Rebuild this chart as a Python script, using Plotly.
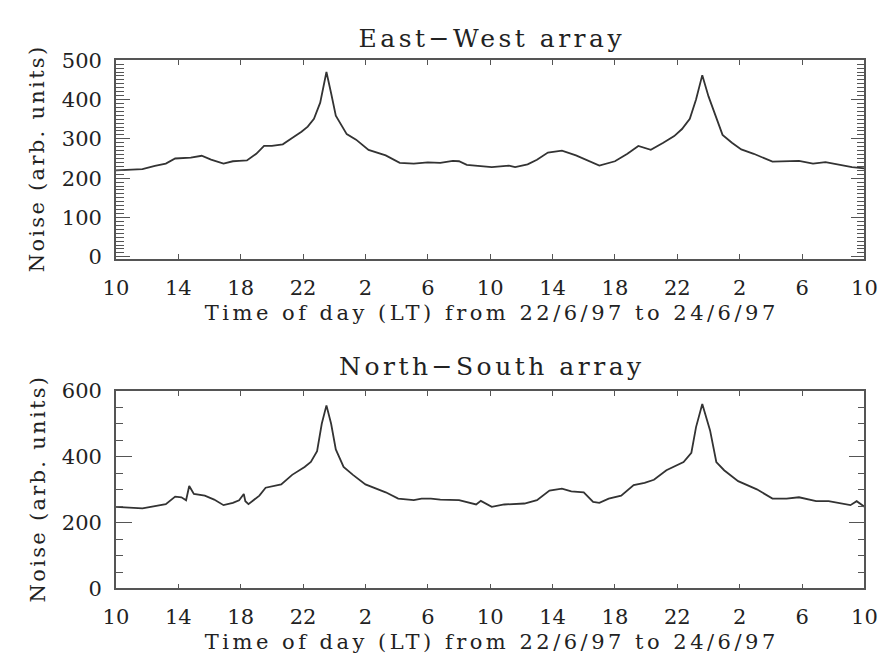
import plotly.graph_objects as go

# Hours since 10 LT on 22/6/97
ew_hours = [0, 1.7, 2.5, 3.2, 3.8, 4.8, 5.5, 6.1, 6.9, 7.5, 7.9, 8.4, 9.0, 9.5, 10.0,
            10.7, 11.3, 11.9, 12.3, 12.7, 13.1, 13.5, 13.8, 14.1, 14.8, 15.4, 16.2, 17.3,
            18.2, 19.1, 20.0, 20.8, 21.6, 22.0, 22.5, 24.1, 25.2, 25.6, 26.4, 27.0, 27.7,
            28.6, 29.5, 30.2, 31.0, 32.0, 32.8, 33.5, 34.3, 35.1, 35.8, 36.3, 36.8, 37.2,
            37.6, 38.0, 38.5, 38.9, 39.5, 40.1, 40.9, 42.1, 43.8, 44.7, 45.5, 46.0, 47.2, 48]
ew_noise = [220, 223, 231, 237, 250, 252, 257, 247, 237, 243, 244, 245, 262, 282, 282,
            286, 302, 318, 331, 351, 392, 470, 416, 359, 312, 298, 272, 258,
            239, 237, 240, 239, 244, 243, 234, 228, 232, 228, 235, 247, 265,
            270, 258, 245, 232, 243, 262, 282, 272, 290, 307, 325, 351, 400,
            462, 408, 351, 310, 290, 273, 262, 242, 244, 237, 241, 237, 228, 225]

ns_hours = [0, 1.7, 2.5, 3.2, 3.8, 4.2, 4.5, 4.7, 5.0, 5.7, 6.3, 6.9, 7.5, 7.9, 8.2,
            8.3, 8.5, 9.2, 9.6, 10.2, 10.6, 11.3, 12.1, 12.5, 12.9, 13.2, 13.5, 13.8,
            14.1, 14.6, 15.2, 16.0, 17.3, 18.1, 19.1, 19.6, 20.2, 20.8, 21.4, 22.0,
            23.1, 23.4, 24.1, 24.9, 26.2, 27.0, 27.8, 28.6, 29.2, 30.0, 30.6, 31.0,
            31.6, 32.4, 33.2, 33.9, 34.5, 35.3, 36.4, 36.9, 37.2, 37.6, 38.1, 38.5,
            39.0, 39.9, 41.1, 42.1, 43.0, 43.8, 44.9, 45.7, 47.1, 47.5, 48]
ns_noise = [248, 243, 250, 256, 279, 277, 268, 311, 287, 282, 270, 253, 260, 268, 287,
            265, 256, 282, 306, 311, 316, 345, 369, 384, 417, 500, 556, 500,
            422, 369, 345, 316, 292, 273, 268, 273, 273, 270, 268, 268,
            255, 266, 248, 255, 258, 268, 297, 303, 295, 292, 263, 260,
            273, 282, 314, 321, 330, 359, 384, 412, 490, 560, 480, 384,
            359, 326, 301, 273, 273, 277, 265, 265, 253, 265, 248]

x_tickvals = [0, 4, 8, 12, 16, 20, 24, 28, 32, 36, 40, 44, 48]
x_ticktext = ["10", "14", "18", "22", "2", "6", "10", "14", "18", "22", "2", "6", "10"]

titles = ["East\u2212West array", "North\u2212South array"]
xlabel = "Time of day (LT) from 22/6/97 to 24/6/97"
ylabel = "Noise (arb. units)"

FONT = "DejaVu Serif"
INK = "#333333"
AX = "#555555"

fig = go.Figure()
fig.add_trace(go.Scatter(x=ew_hours, y=ew_noise, mode="lines",
                         line=dict(color=INK, width=1.8), xaxis="x", yaxis="y",
                         showlegend=False))
fig.add_trace(go.Scatter(x=ns_hours, y=ns_noise, mode="lines",
                         line=dict(color=INK, width=1.8), xaxis="x2", yaxis="y2",
                         showlegend=False))

xdom = [106 / 893, 877 / 893]
ydom1 = [1 - 256 / 667, 1 - 50 / 667]
ydom2 = [1 - 598 / 667, 1 - 393 / 667]

common_x = dict(range=[0, 48], tickvals=x_tickvals, ticktext=x_ticktext,
                ticks="inside", ticklen=5, tickwidth=1.2, tickcolor=AX,
                showline=True, linecolor=AX, linewidth=1.5, mirror="ticks",
                showgrid=False, zeroline=False, domain=xdom,
                tickfont=dict(family=FONT, size=21, color="#222"),
                ticklabelstandoff=9)
common_y = dict(ticks="inside", tickwidth=1.2, tickcolor=AX,
                showline=True, linecolor=AX, linewidth=1.5, mirror="ticks",
                showgrid=False, zeroline=False, ticklabelstandoff=8,
                tickfont=dict(family=FONT, size=21, color="#222"))

fig.update_layout(
    width=893, height=667,
    margin=dict(l=0, r=0, t=0, b=0),
    paper_bgcolor="white", plot_bgcolor="white",
    xaxis=dict(**common_x, anchor="y"),
    yaxis=dict(**common_y, domain=ydom1, range=[-5, 500], anchor="x",
               tickvals=[0, 100, 200, 300, 400, 500], ticklen=14,
               minor=dict(dtick=10, tick0=0, ticks="inside", ticklen=8,
                          tickcolor=AX, tickwidth=1)),
    xaxis2=dict(**common_x, anchor="y2"),
    yaxis2=dict(**common_y, domain=ydom2, range=[0, 600], anchor="x2",
                tickvals=[0, 200, 400, 600], ticklen=16,
                minor=dict(dtick=50, tick0=0, ticks="inside", ticklen=7,
                           tickcolor=AX, tickwidth=1)),
)

ann = []
xc = (xdom[0] + xdom[1]) / 2
for title, ty, xy, ymid in [
    (titles[0], 1 - 27 / 667, 1 - 312 / 667, (ydom1[0] + ydom1[1]) / 2),
    (titles[1], 1 - 368 / 667, 1 - 653 / 667, (ydom2[0] + ydom2[1]) / 2),
]:
    ann.append(dict(text=title, x=xc, y=ty, xref="paper", yref="paper",
                    showarrow=False, xanchor="center", yanchor="middle",
                    font=dict(family=FONT, size=25, color="#222")))
    ann.append(dict(text=xlabel, x=xc, y=xy, xref="paper", yref="paper",
                    showarrow=False, xanchor="center", yanchor="middle",
                    font=dict(family=FONT, size=21, color="#222")))
    ann.append(dict(text=ylabel, x=25 / 893, y=ymid, xref="paper", yref="paper",
                    showarrow=False, xanchor="center", yanchor="middle", textangle=-90,
                    font=dict(family=FONT, size=21, color="#222")))
fig.update_layout(annotations=ann)

# widen the letter spacing of titles to match the wide plotter lettering
post_js = """
document.querySelectorAll('.annotation-text').forEach(function(t){
  var s = t.textContent;
  var sp = 3.5;
  if (s.indexOf('Noise') === 0) { sp = 2.3; }
  t.style.letterSpacing = sp + 'px';
  var n = s.length;
  var dx = sp * n / 2;
  var x = parseFloat(t.getAttribute('x') || '0');
  t.setAttribute('x', x + sp / 2);
});
"""

fig.write_html("out.html", post_script=post_js)
